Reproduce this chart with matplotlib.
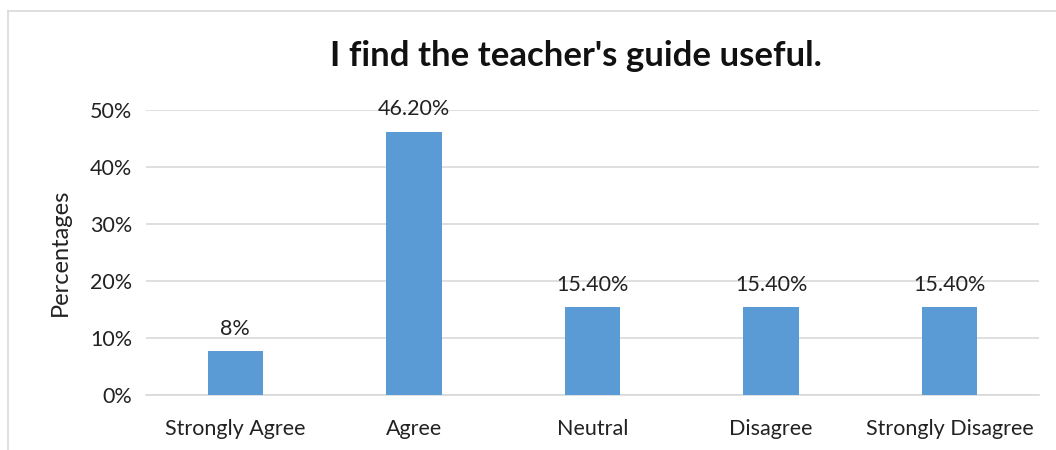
import matplotlib
matplotlib.use('Agg')
import matplotlib.pyplot as plt
from matplotlib.lines import Line2D
from matplotlib.ticker import FuncFormatter

plt.rcParams['font.family'] = ['Lato', 'DejaVu Sans']

# ── 数据 ──────────────────────────────────────────
categories = ['Strongly Agree', 'Agree', 'Neutral', 'Disagree', 'Strongly Disagree']
values = [7.7, 46.2, 15.4, 15.4, 15.4]
labels = ['8%', '46.20%', '15.40%', '15.40%', '15.40%']

fig = plt.figure(figsize=(10.56, 4.5), dpi=100)
ax = fig.add_axes([146 / 1056, 1 - 395 / 450, (1039 - 146) / 1056, (395 - 110) / 450])

x = range(len(categories))
ax.bar(x, values, width=0.31, color='#5B9BD5', zorder=3)

for xi, v, lab in zip(x, values, labels):
    ax.annotate(lab, (xi, v), textcoords='offset points', xytext=(0, 9),
                ha='center', va='bottom', fontsize=15.5, color='#222222')

ax.set_xlim(-0.5, len(categories) - 0.5)
ax.set_ylim(0, 50)
ax.set_yticks(range(0, 51, 10))
ax.yaxis.set_major_formatter(FuncFormatter(lambda v, p: f'{int(v)}%'))
ax.set_xticks(list(x))
ax.set_xticklabels(categories)
ax.tick_params(axis='both', length=0, labelsize=15.5, colors='#222222')
ax.tick_params(axis='x', pad=17)
ax.tick_params(axis='y', pad=10)
ax.grid(axis='y', color='#D9D9D9', linewidth=1.2, zorder=0)
for s in ['top', 'right', 'left']:
    ax.spines[s].set_visible(False)
ax.spines['bottom'].set_color('#D9D9D9')
ax.spines['bottom'].set_linewidth(1.2)

ax.set_ylabel('Percentages', fontsize=17, color='#222222', labelpad=14)

fig.text(576 / 1056, 1 - 56 / 450, "I find the teacher's guide useful.",
         ha='center', va='center', fontsize=25, fontweight='bold', color='#111111')

# 外框线
fig.add_artist(Line2D([8 / 1056, 1], [1 - 11 / 450, 1 - 11 / 450],
                      color='#D9D9D9', linewidth=1.2, transform=fig.transFigure))
fig.add_artist(Line2D([8 / 1056, 8 / 1056], [0, 1 - 11 / 450],
                      color='#D9D9D9', linewidth=1.2, transform=fig.transFigure))

plt.savefig('out.png', dpi=100)
